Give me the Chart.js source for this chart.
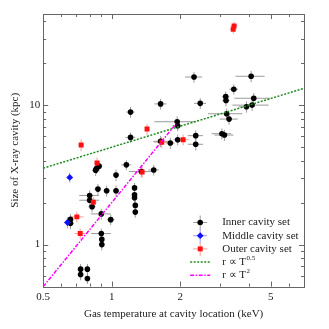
<!DOCTYPE html>
<html>
<head>
<meta charset="utf-8">
<script src="https://cdn.jsdelivr.net/npm/chart.js@4/dist/chart.umd.min.js"></script>
<style>
  html, body { margin: 0; padding: 0; background: #fff; }
  #wrap { width: 329px; height: 329px; }
</style>
</head>
<body>
<div id="wrap"><canvas id="cavity" width="329" height="329"></canvas></div>
<script>
// inner cavity set: temperature (keV), size (kpc), errors
const innerT    = [2.30, 4.10, 3.44, 3.17, 3.18, 4.21, 3.91, 4.14, 3.20, 3.28, 3.05, 3.13, 2.45, 1.64, 1.21, 1.94, 1.95, 1.21, 2.34, 2.34, 1.64, 1.81, 1.95, 1.16, 1.045, 1.53, 1.35, 0.88, 0.857, 0.85, 0.87, 0.95, 1.045, 0.80, 0.80, 0.82, 1.26, 1.26, 1.26, 1.27, 1.27, 0.90, 0.99, 0.659, 0.659, 0.90, 0.905, 0.905, 0.73, 0.73, 0.782, 0.782];
const innerR    = [15.9, 16.1, 13.0, 11.5, 10.8, 11.2, 9.73, 10.0, 8.67, 7.94, 6.24, 6.10, 10.3, 10.2, 8.91, 7.60, 7.12, 5.87, 6.04, 5.24, 5.50, 5.35, 5.65, 3.73, 3.15, 3.43, 3.34, 3.65, 3.51, 3.41, 2.50, 2.43, 2.43, 2.25, 2.08, 1.87, 2.55, 2.28, 2.17, 1.91, 1.71, 1.66, 1.51, 1.52, 1.42, 1.20, 1.09, 1.00, 0.667, 0.61, 0.667, 0.572];
const innerTerr = [0.20, 0.60, 0.15, 0.12, 0.12, 0.75, 0.30, 0.75, 0.55, 0.30, 0.30, 0.30, 0.15, 0.10, 0.05, 0.40, 0.10, 0.06, 0.18, 0.18, 0.12, 0.08, 0.08, 0.06, 0.03, 0.08, 0.16, 0.03, 0.03, 0.03, 0.03, 0.03, 0.03, 0.08, 0.08, 0.03, 0.03, 0.03, 0.03, 0.03, 0.03, 0.09, 0.04, 0.02, 0.02, 0.09, 0.02, 0.02, 0.02, 0.02, 0.02, 0.02];
const innerRerr = [1.4, 1.5, 1.1, 1.0, 1.0, 1.0, 0.9, 0.9, 0.8, 0.7, 0.55, 0.55, 0.9, 0.9, 0.8, 0.7, 0.6, 0.5, 0.55, 0.5, 0.5, 0.5, 0.5, 0.3, 0.3, 0.3, 0.3, 0.3, 0.3, 0.3, 0.22, 0.22, 0.22, 0.2, 0.2, 0.17, 0.22, 0.2, 0.2, 0.17, 0.15, 0.15, 0.13, 0.13, 0.13, 0.1, 0.1, 0.09, 0.06, 0.055, 0.06, 0.05];

// middle cavity set
const middleT    = [0.654, 0.639];
const middleR    = [3.03, 1.44];
const middleTerr = [0.02, 0.02];
const middleRerr = [0.25, 0.13];

// outer cavity set
const outerT    = [3.45, 3.42, 1.43, 0.734, 1.66, 2.06, 0.862, 1.36, 0.83, 0.703, 0.727];
const outerR    = [37.0, 35.0, 6.74, 5.18, 5.41, 5.65, 3.85, 3.32, 2.01, 1.58, 1.20];
const outerTerr = [0.12, 0.12, 0.03, 0.02, 0.12, 0.12, 0.02, 0.04, 0.03, 0.05, 0.04];
const outerRerr = [2.5, 2.5, 0.6, 0.5, 0.5, 0.5, 0.35, 0.3, 0.18, 0.14, 0.1];

// reference relations, end points only (straight in log-log)
const fitHalfT = [0.5, 7.0];
const fitHalfR = [3.53, 13.2];
const fitTwoT  = [0.5, 1.92];
const fitTwoR  = [0.5, 7.37];

// ticks
const xLabelTicks = [0.5, 1, 2, 5];
const xMinorTicks = [0.6, 0.7, 0.8, 0.9, 3, 4, 6, 7];
const yLabelTicks = [1, 10];
const yMinorTicks = [0.6, 0.7, 0.8, 0.9, 2, 3, 4, 5, 6, 7, 8, 9, 20, 30, 40];

const legendRows = ["Inner cavity set", "Middle cavity set", "Outer cavity set"];

const FONT = "'Liberation Serif', 'Times New Roman', serif";
const toPts = (xs, ys) => xs.map((x, i) => ({ x: x, y: ys[i] }));

// error bars under the markers
const errorBars = {
  id: "errorBars",
  beforeDatasetsDraw(chart) {
    const { ctx, scales: { x, y } } = chart;
    ctx.save();
    ctx.lineWidth = 1;
    chart.data.datasets.forEach(ds => {
      if (!ds.tErr) return;
      ctx.strokeStyle = ds.errColor;
      ds.data.forEach((p, i) => {
        const px = x.getPixelForValue(p.x), py = y.getPixelForValue(p.y);
        const x0 = x.getPixelForValue(p.x - ds.tErr[i]), x1 = x.getPixelForValue(p.x + ds.tErr[i]);
        const y0 = y.getPixelForValue(p.y - ds.rErr[i]), y1 = y.getPixelForValue(p.y + ds.rErr[i]);
        ctx.beginPath();
        ctx.moveTo(x0, py); ctx.lineTo(x1, py);
        ctx.moveTo(px, y0); ctx.lineTo(px, y1);
        ctx.stroke();
      });
    });
    ctx.restore();
  }
};

// box with inward ticks on all four sides + legend
const frameAndLegend = {
  id: "frameAndLegend",
  afterDraw(chart) {
    const { ctx, chartArea: a, scales: { x, y } } = chart;
    ctx.save();
    ctx.strokeStyle = "#666";
    ctx.lineWidth = 1;
    ctx.strokeRect(Math.round(a.left) + 0.5, Math.round(a.top) + 0.5,
                   Math.round(a.right - a.left), Math.round(a.bottom - a.top));
    ctx.beginPath();
    const tx = (v, len) => {
      const p = Math.round(x.getPixelForValue(v)) + 0.5;
      ctx.moveTo(p, a.bottom); ctx.lineTo(p, a.bottom - len);
      ctx.moveTo(p, a.top); ctx.lineTo(p, a.top + len);
    };
    const ty = (v, len) => {
      const p = Math.round(y.getPixelForValue(v)) + 0.5;
      ctx.moveTo(a.left, p); ctx.lineTo(a.left + len, p);
      ctx.moveTo(a.right, p); ctx.lineTo(a.right - len, p);
    };
    xLabelTicks.forEach(v => tx(v, 5));
    xMinorTicks.forEach(v => tx(v, 3));
    yLabelTicks.forEach(v => ty(v, 5));
    yMinorTicks.forEach(v => ty(v, 3));
    ctx.stroke();

    // legend
    const mx = a.left + 157, tx0 = a.left + 179, top = a.top + 208.5, step = 13.2;
    const sets = chart.data.datasets.slice(0, 3);
    ctx.textBaseline = "middle";
    sets.forEach((ds, i) => {
      const cy = top + i * step;
      ctx.strokeStyle = ds.errColor;
      ctx.beginPath();
      ctx.moveTo(mx - 7, cy); ctx.lineTo(mx + 7, cy);
      ctx.moveTo(mx, cy - 7); ctx.lineTo(mx, cy + 7);
      ctx.stroke();
      ctx.fillStyle = ds.backgroundColor;
      Chart.helpers.drawPoint(ctx, { pointStyle: ds.pointStyle, radius: ds.pointRadius, borderWidth: 0, rotation: 0 }, mx, cy);
      ctx.fillStyle = "#222";
      ctx.font = "11px " + FONT;
      ctx.fillText(legendRows[i], tx0, cy);
    });
    const fits = chart.data.datasets.slice(3);
    const sups = ["0.5", "2"];
    fits.forEach((ds, i) => {
      const cy = top + (3 + i) * step;
      ctx.strokeStyle = ds.borderColor;
      ctx.lineWidth = ds.borderWidth;
      ctx.setLineDash(ds.borderDash);
      ctx.beginPath();
      ctx.moveTo(mx - 10, cy); ctx.lineTo(mx + 10, cy);
      ctx.stroke();
      ctx.setLineDash([]);
      ctx.fillStyle = "#222";
      ctx.font = "11px " + FONT;
      const base = "r \u221D T";
      ctx.fillText(base, tx0, cy);
      const w = ctx.measureText(base).width;
      ctx.font = "7px " + FONT;
      ctx.fillText(sups[i], tx0 + w + 0.5, cy - 4);
    });
    ctx.restore();
  }
};

new Chart(document.getElementById("cavity"), {
  type: "scatter",
  data: {
    datasets: [
      { label: "Inner cavity set", data: toPts(innerT, innerR), tErr: innerTerr, rErr: innerRerr,
        errColor: "#9a9a9a", backgroundColor: "#000", pointStyle: "circle", pointRadius: 2.8,
        borderWidth: 0, order: 3 },
      { label: "Middle cavity set", data: toPts(middleT, middleR), tErr: middleTerr, rErr: middleRerr,
        errColor: "#9a9aff", backgroundColor: "#1010ff", pointStyle: "rectRot", pointRadius: 3.4,
        borderWidth: 0, order: 2 },
      { label: "Outer cavity set", data: toPts(outerT, outerR), tErr: outerTerr, rErr: outerRerr,
        errColor: "#ff9a9a", backgroundColor: "#ff1010", pointStyle: "rect", pointRadius: 3.5,
        borderWidth: 0, order: 1 },
      { label: "r \u221D T^0.5", data: toPts(fitHalfT, fitHalfR), showLine: true, pointRadius: 0,
        borderColor: "#1f8a1f", borderWidth: 1.5, borderDash: [2, 1.5], order: 0 },
      { label: "r \u221D T^2", data: toPts(fitTwoT, fitTwoR), showLine: true, pointRadius: 0,
        borderColor: "#ff00ff", borderWidth: 1.5, borderDash: [4, 1.5, 1.5, 1.5], order: 0 }
    ]
  },
  options: {
    responsive: false,
    animation: false,
    events: [],
    layout: { padding: { left: 9, right: 25, top: 14, bottom: 8 } },
    plugins: { legend: { display: false }, tooltip: { enabled: false } },
    scales: {
      x: {
        type: "logarithmic", min: 0.5, max: 7,
        grid: { display: false, drawTicks: false }, border: { display: false },
        afterBuildTicks: s => { s.ticks = xLabelTicks.map(v => ({ value: v })); },
        ticks: { autoSkip: false, maxRotation: 0, padding: 4, color: "#222",
                 font: { family: FONT, size: 11 }, callback: v => String(v) },
        title: { display: true, text: "Gas temperature at cavity location (keV)", color: "#222",
                 font: { family: FONT, size: 11 }, padding: { top: 0, bottom: 0 } }
      },
      y: {
        type: "logarithmic", min: 0.5, max: 45,
        grid: { display: false, drawTicks: false }, border: { display: false },
        afterBuildTicks: s => { s.ticks = yLabelTicks.map(v => ({ value: v })); },
        ticks: { autoSkip: false, padding: 3, color: "#222",
                 font: { family: FONT, size: 11 }, callback: v => String(v) },
        title: { display: true, text: "Size of X-ray cavity (kpc)", color: "#222",
                 font: { family: FONT, size: 11 }, padding: { top: 0, bottom: 4 } }
      }
    }
  },
  plugins: [errorBars, frameAndLegend]
});
</script>
</body>
</html>
